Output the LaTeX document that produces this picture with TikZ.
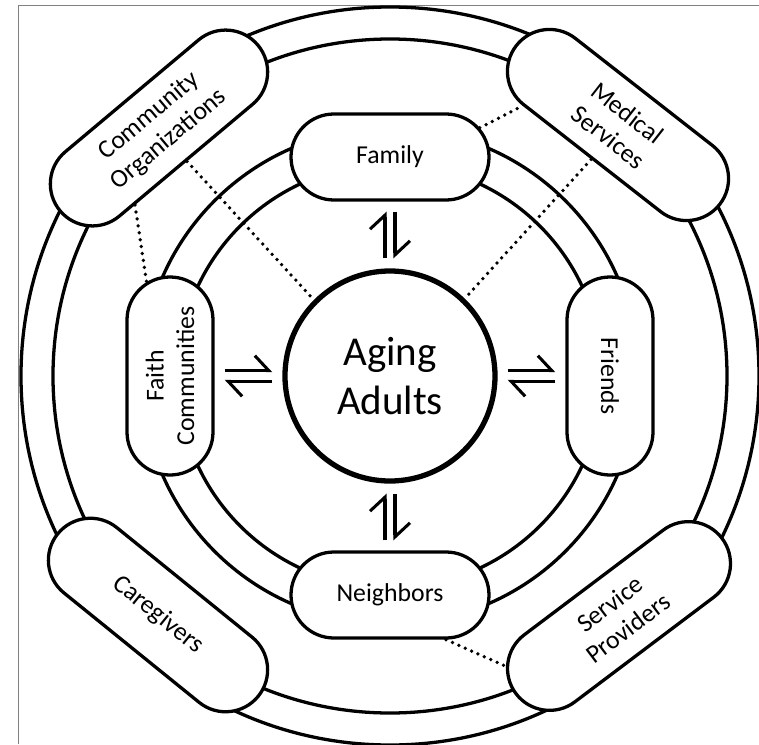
\documentclass[tikz,border=0pt]{standalone}
\usepackage{fontspec}
\setmainfont{Carlito}
\usetikzlibrary{arrows.meta, shapes.misc, calc}

\begin{document}
\begin{tikzpicture}[x=0.03cm, y=0.03cm,
        ring/.style={line width=2.8pt},
        inbox/.style={rounded rectangle, draw, line width=2.8pt, fill=white,
            minimum width=5.94cm, minimum height=2.58cm, inner sep=0pt,
            align=center, font=\fontsize{22}{26}\selectfont},
        outbox/.style={inbox, minimum width=7.74cm, minimum height=2.52cm},
        link/.style={line width=3.2pt, dash pattern=on 0pt off 2.1mm, line cap=round},
        harp/.style={line width=2.6pt, -{Straight Barb[left, length=4.2mm, width=9mm]},
            shorten <=0.3cm, shorten >=0.3cm}]
        \useasboundingbox (-390,-368) rectangle (369,376);
        \draw[gray, line width=0.8pt] (-372,-368) -- (-372,370.5) -- (369,370.5);

        % rings
        \draw[ring] (0,0) circle (212);
        \draw[ring] (0,0) circle (248);
        \draw[ring] (0,0) circle (337);
        \draw[ring] (0,0) circle (369);

        \node[circle, draw, line width=4.5pt, fill=white, minimum size=6.3cm,
            align=center, font=\fontsize{35}{42}\selectfont] at (0,0) (ag) {Aging\\Adults};

        \node[inbox] at (0,219)   (fam) {Family};
        \node[inbox] at (0,-219)  (nei) {Neighbors};
        \node[inbox, rotate=90]  at (-220,0) (fai) {Faith\\Communities};
        \node[inbox, rotate=-90] at (220,0)  (fri) {Friends};

        \node[outbox, rotate=40]  at (-231,248)  (com) {Community\\Organizations};
        \node[outbox, rotate=-38] at (228,251)   (med) {Medical\\Services};
        \node[outbox, rotate=-39] at (-232,-239) (car) {Caregivers};
        \node[outbox, rotate=37]  at (229,-240)  (ser) {Service\\Providers};

        \draw[link] (com.south) -- (ag.135);
        \draw[link] ($(com.south)!0.78!(com.south west)$) -- (fai.14);
        \draw[link] (fam.18) -- (med.south west);
        \draw[link] (med.south) -- (ag.46);
        \draw[link] (nei.south east) -- (ser.167);

        \draw[harp] ([xshift=-0.15cm]ag.north) -- ([xshift=-0.15cm]fam.south);
        \draw[harp] ([xshift=0.15cm]fam.south) -- ([xshift=0.15cm]ag.north);
        \draw[harp] ([yshift=0.16cm]ag.east) -- ([yshift=0.16cm]fri.south);
        \draw[harp] ([yshift=-0.16cm]fri.south) -- ([yshift=-0.16cm]ag.east);
        \draw[harp] ([xshift=0.15cm]ag.south) -- ([xshift=0.15cm]nei.north);
        \draw[harp] ([xshift=-0.15cm]nei.north) -- ([xshift=-0.15cm]ag.south);
        \draw[harp] ([yshift=-0.16cm]ag.west) -- ([yshift=-0.16cm]fai.south);
        \draw[harp] ([yshift=0.16cm]fai.south) -- ([yshift=0.16cm]ag.west);
    \end{tikzpicture}
\end{document}
